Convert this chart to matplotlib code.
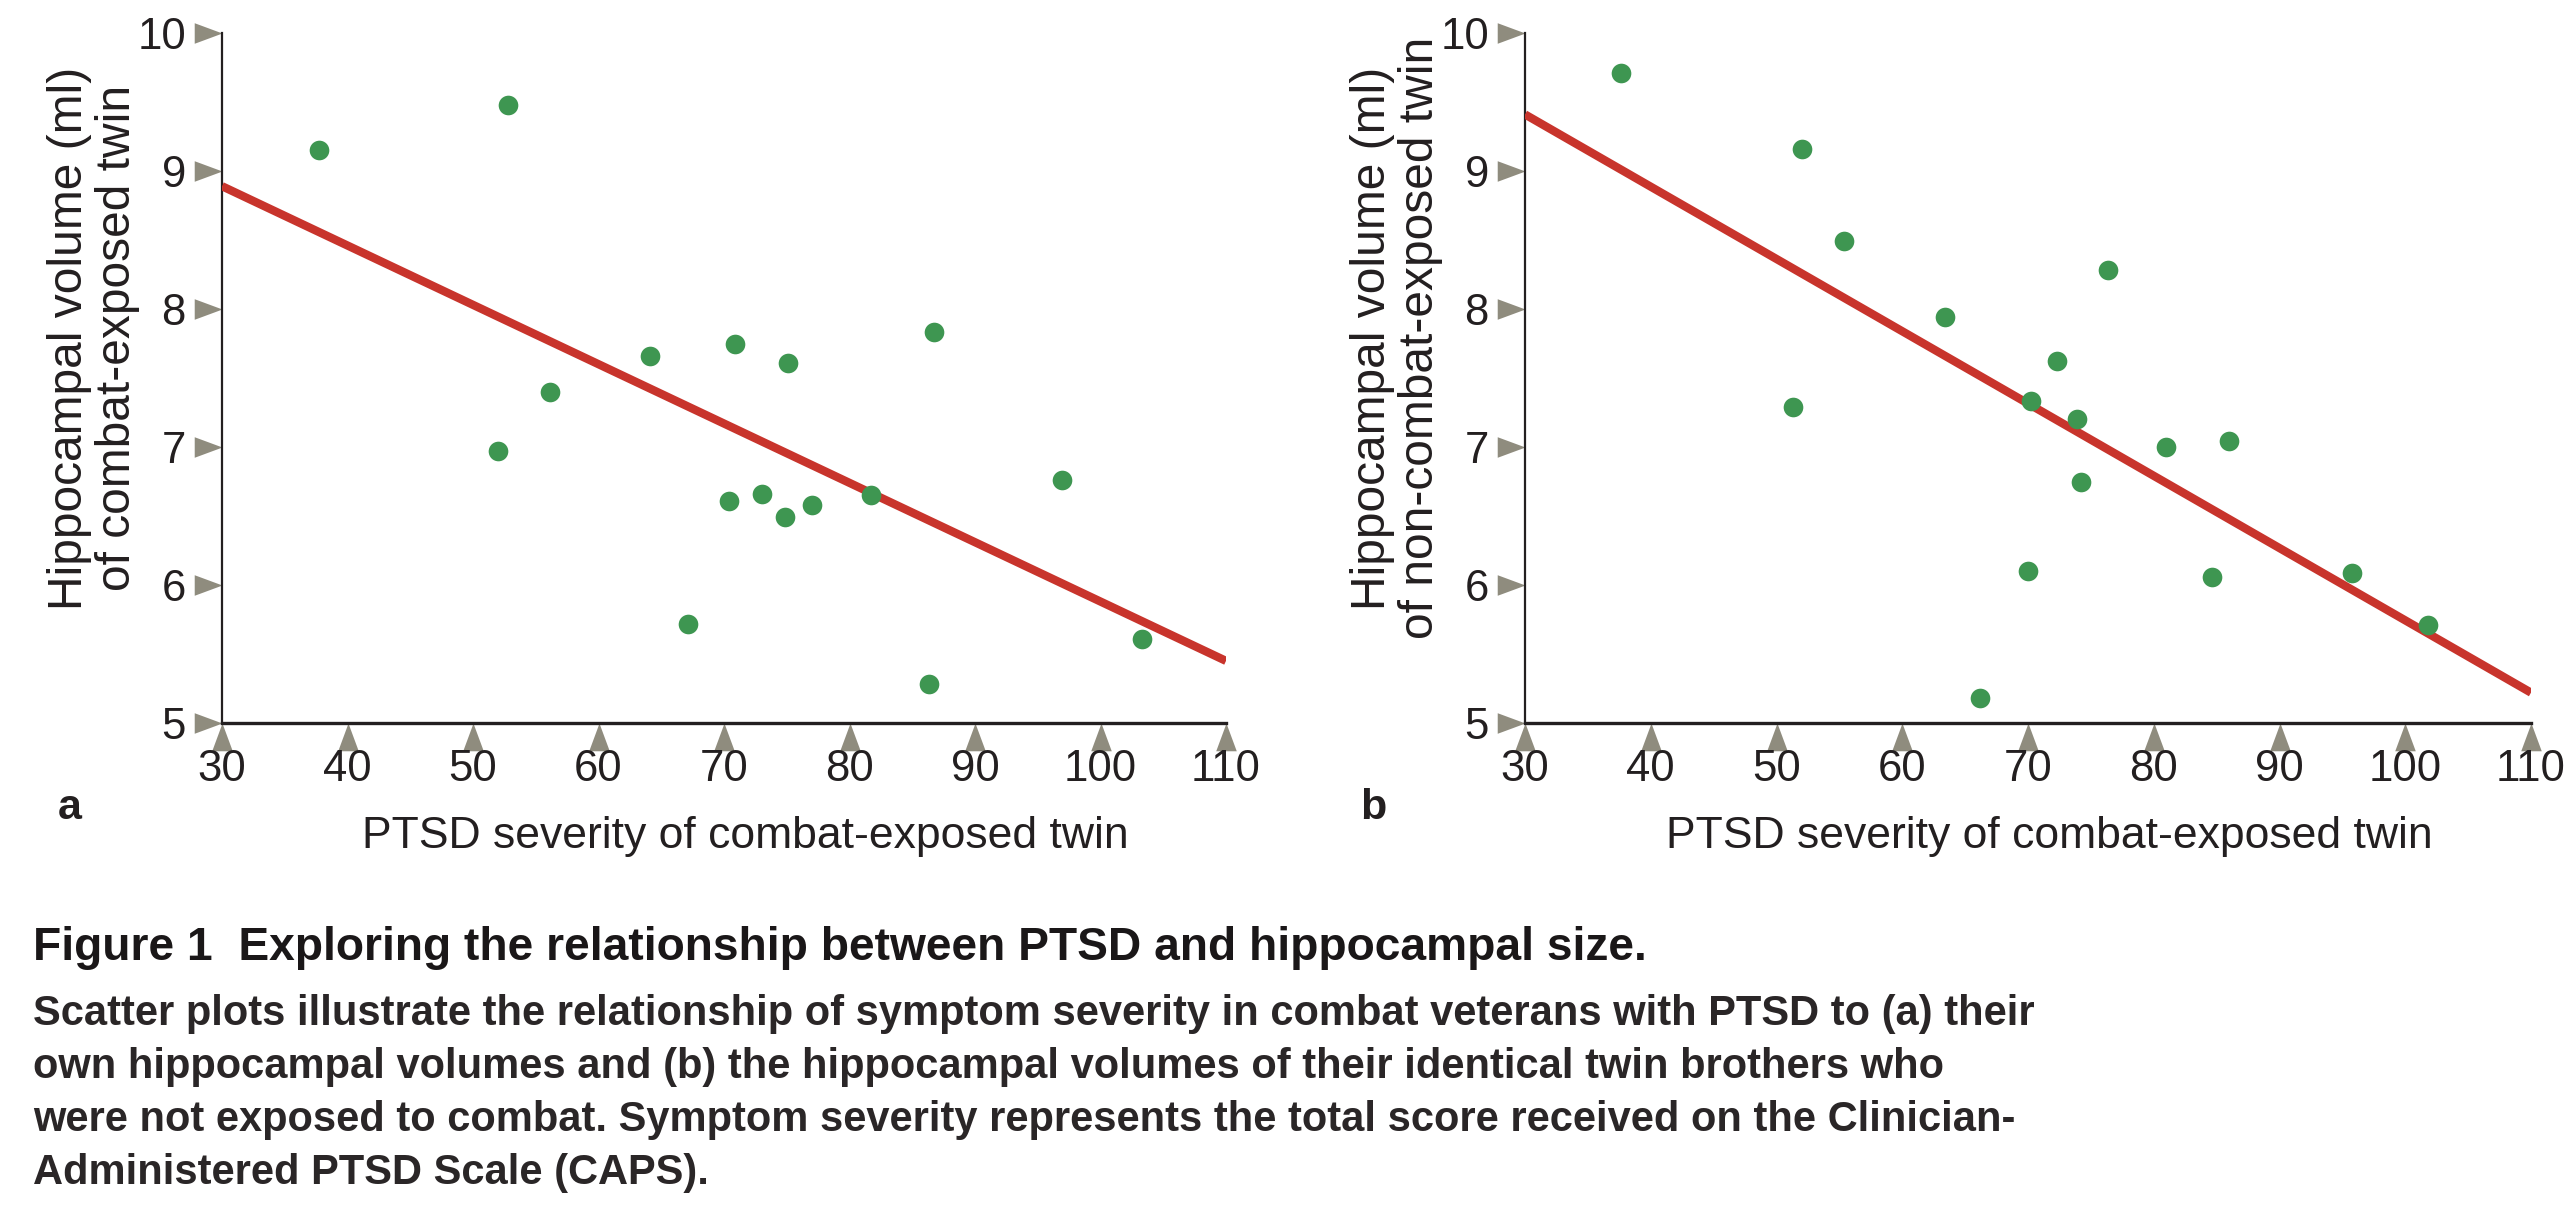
import numpy as np
import matplotlib
matplotlib.use("Agg")
import matplotlib.pyplot as plt
from matplotlib.path import Path

plt.rcParams['font.family'] = ['Liberation Sans', 'DejaVu Sans']

# data
x_ticks = [30, 40, 50, 60, 70, 80, 90, 100, 110]
y_ticks = [5, 6, 7, 8, 9, 10]

# panel a: own hippocampal volume
a_x = [37.7, 52.8, 56.1, 52.0, 64.1, 67.1, 70.9, 70.4, 73.0, 75.1, 74.9, 77.0, 81.7, 86.7, 86.3, 96.9, 103.3]
a_y = [9.15, 9.48, 7.40, 6.97, 7.66, 5.72, 7.75, 6.61, 6.66, 7.61, 6.49, 6.58, 6.65, 7.83, 5.28, 6.76, 5.61]
a_fit = [8.89, 5.45]

# panel b: twin's hippocampal volume
b_x = [37.6, 52.0, 55.4, 51.3, 63.4, 72.3, 70.2, 73.9, 74.2, 76.4, 81.0, 86.0, 70.0, 84.6, 95.8, 101.8, 66.2]
b_y = [9.71, 9.16, 8.49, 7.29, 7.94, 7.62, 7.33, 7.20, 6.75, 8.28, 7.00, 7.04, 6.10, 6.06, 6.09, 5.71, 5.18]
b_fit = [9.41, 5.22]
fit_x = [30, 110]

xlabel = "PTSD severity of combat-exposed twin"
ylabels = ["Hippocampal volume (ml)\nof combat-exposed twin",
           "Hippocampal volume (ml)\nof non-combat-exposed twin"]

title = "Figure 1  Exploring the relationship between PTSD and hippocampal size."
caption = ["Scatter plots illustrate the relationship of symptom severity in combat veterans with PTSD to (a) their",
           "own hippocampal volumes and (b) the hippocampal volumes of their identical twin brothers who",
           "were not exposed to combat. Symptom severity represents the total score received on the Clinician-",
           "Administered PTSD Scale (CAPS)."]

W, H = 2574, 1216
fig = plt.figure(figsize=(W / 100, H / 100), dpi=100)

dark = '#231f20'
tri_col = '#8f8c7e'
green = '#3e9651'
red = '#c8342c'

up_tri = Path([(0, 0), (-0.37, -1), (0.37, -1), (0, 0)],
              [Path.MOVETO, Path.LINETO, Path.LINETO, Path.CLOSEPOLY])
right_tri = Path([(0, 0), (-1, 0.37), (-1, -0.37), (0, 0)],
                 [Path.MOVETO, Path.LINETO, Path.LINETO, Path.CLOSEPOLY])


def panel(left_px, width_px, xs, ys, fit, ylab, letter):
    ax = fig.add_axes([left_px / W, 1 - 723 / H, width_px / W, 690 / H])
    ax.set_xlim(30, 110)
    ax.set_ylim(5, 10)
    for s in ['top', 'right']:
        ax.spines[s].set_visible(False)
    ax.spines['left'].set_linewidth(1.6)
    ax.spines['bottom'].set_linewidth(2.4)
    ax.spines['left'].set_color(dark)
    ax.spines['bottom'].set_color(dark)
    ax.set_xticks(x_ticks)
    ax.set_yticks(y_ticks)
    ax.tick_params(axis='x', length=0, pad=19, labelsize=31.5, labelcolor=dark)
    ax.tick_params(axis='y', length=0, pad=26, labelsize=31.5, labelcolor=dark)

    # triangle tick marks
    ax.plot(x_ticks, [5] * len(x_ticks), ls='none', marker=up_tri, ms=40,
            color=tri_col, mew=0, clip_on=False, zorder=1)
    ax.plot([30] * len(y_ticks), y_ticks, ls='none', marker=right_tri, ms=40,
            color=tri_col, mew=0, clip_on=False, zorder=1)

    ax.plot(fit_x, fit, color=red, lw=6, solid_capstyle='butt', zorder=3)
    ax.scatter(xs, ys, s=200, color=green, linewidths=0, zorder=4, clip_on=False)

    ax.text(0.521, -0.165, xlabel, transform=ax.transAxes, ha='center', va='center',
            fontsize=32, color=dark)
    ax.text(-0.128, 0.558, ylab, transform=ax.transAxes, ha='center', va='center',
            rotation=90, fontsize=34.5, color=dark, linespacing=1.08, multialignment='center')
    fig.text((left_px - 152) / W, 1 - 808 / H, letter, fontsize=31, fontweight='bold',
             color=dark, ha='center', va='center')
    return ax


panel(222, 1004, a_x, a_y, a_fit, ylabels[0], 'a')
panel(1525, 1006, b_x, b_y, b_fit, ylabels[1], 'b')

fig.text(33 / W, 1 - 948 / H, title, fontsize=33.2, fontweight='bold',
         color='#1a1718', ha='left', va='center')
for i, line in enumerate(caption):
    fig.text(33 / W, 1 - (1014 + i * 53) / H, line, fontsize=30, fontweight='bold',
             color='#2a2627', ha='left', va='center')

fig.savefig('out.png', dpi=100, facecolor='white')
